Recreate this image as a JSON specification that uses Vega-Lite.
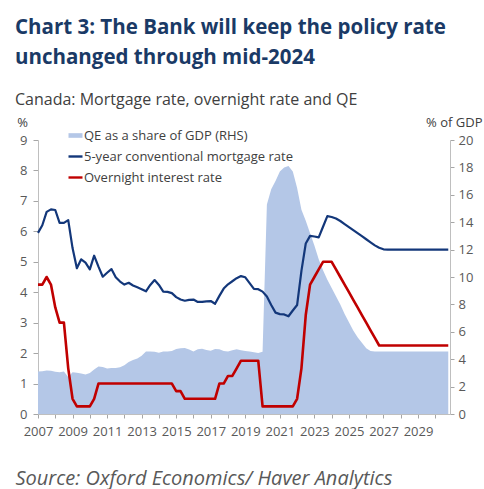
{
  "$schema": "https://vega.github.io/schema/vega-lite/v6.json",
  "width": 412,
  "height": 274,
  "autosize": "none",
  "padding": {"left": 38, "top": 140, "right": 34, "bottom": 75},
  "background": "white",
  "title": {
    "text": ["Chart 3: The Bank will keep the policy rate", "unchanged through mid-2024"],
    "subtitle": "Canada: Mortgage rate, overnight rate and QE",
    "anchor": "start",
    "frame": "group",
    "dx": -23,
    "font": "Open Sans",
    "fontSize": 20.5,
    "fontWeight": "bold",
    "color": "#1A3A66",
    "lineHeight": 30,
    "subtitleFont": "Open Sans",
    "subtitleFontSize": 16,
    "subtitleColor": "#404040",
    "subtitlePadding": 24,
    "offset": 8
  },
  "data": {"values": [
    {"t": 2007, "qe": 3.11, "mort": 5.95, "ovn": 4.25},
    {"t": 2007.25, "qe": 3.12, "mort": 6.2, "ovn": 4.25},
    {"t": 2007.5, "qe": 3.18, "mort": 6.64, "ovn": 4.5},
    {"t": 2007.75, "qe": 3.15, "mort": 6.72, "ovn": 4.25},
    {"t": 2008, "qe": 3.08, "mort": 6.7, "ovn": 3.5},
    {"t": 2008.25, "qe": 3.04, "mort": 6.28, "ovn": 3.0},
    {"t": 2008.5, "qe": 3.1, "mort": 6.28, "ovn": 3.0},
    {"t": 2008.75, "qe": 2.7, "mort": 6.37, "ovn": 1.5},
    {"t": 2009, "qe": 3.05, "mort": 5.45, "ovn": 0.5},
    {"t": 2009.25, "qe": 3.02, "mort": 4.79, "ovn": 0.25},
    {"t": 2009.5, "qe": 2.95, "mort": 5.08, "ovn": 0.25},
    {"t": 2009.75, "qe": 2.88, "mort": 4.97, "ovn": 0.25},
    {"t": 2010, "qe": 3.0, "mort": 4.75, "ovn": 0.25},
    {"t": 2010.25, "qe": 3.25, "mort": 5.2, "ovn": 0.5},
    {"t": 2010.5, "qe": 3.47, "mort": 4.84, "ovn": 1.0},
    {"t": 2010.75, "qe": 3.43, "mort": 4.51, "ovn": 1.0},
    {"t": 2011, "qe": 3.33, "mort": 4.64, "ovn": 1.0},
    {"t": 2011.25, "qe": 3.35, "mort": 4.76, "ovn": 1.0},
    {"t": 2011.5, "qe": 3.36, "mort": 4.49, "ovn": 1.0},
    {"t": 2011.75, "qe": 3.42, "mort": 4.35, "ovn": 1.0},
    {"t": 2012, "qe": 3.55, "mort": 4.25, "ovn": 1.0},
    {"t": 2012.25, "qe": 3.8, "mort": 4.31, "ovn": 1.0},
    {"t": 2012.5, "qe": 3.95, "mort": 4.22, "ovn": 1.0},
    {"t": 2012.75, "qe": 4.05, "mort": 4.16, "ovn": 1.0},
    {"t": 2013, "qe": 4.25, "mort": 4.1, "ovn": 1.0},
    {"t": 2013.25, "qe": 4.57, "mort": 4.03, "ovn": 1.0},
    {"t": 2013.5, "qe": 4.57, "mort": 4.24, "ovn": 1.0},
    {"t": 2013.75, "qe": 4.55, "mort": 4.4, "ovn": 1.0},
    {"t": 2014, "qe": 4.47, "mort": 4.24, "ovn": 1.0},
    {"t": 2014.25, "qe": 4.57, "mort": 4.02, "ovn": 1.0},
    {"t": 2014.5, "qe": 4.57, "mort": 4.01, "ovn": 1.0},
    {"t": 2014.75, "qe": 4.6, "mort": 3.97, "ovn": 1.0},
    {"t": 2015, "qe": 4.75, "mort": 3.84, "ovn": 0.75},
    {"t": 2015.25, "qe": 4.8, "mort": 3.76, "ovn": 0.75},
    {"t": 2015.5, "qe": 4.82, "mort": 3.72, "ovn": 0.5},
    {"t": 2015.75, "qe": 4.7, "mort": 3.75, "ovn": 0.5},
    {"t": 2016, "qe": 4.57, "mort": 3.76, "ovn": 0.5},
    {"t": 2016.25, "qe": 4.72, "mort": 3.68, "ovn": 0.5},
    {"t": 2016.5, "qe": 4.77, "mort": 3.68, "ovn": 0.5},
    {"t": 2016.75, "qe": 4.68, "mort": 3.7, "ovn": 0.5},
    {"t": 2017, "qe": 4.62, "mort": 3.71, "ovn": 0.5},
    {"t": 2017.25, "qe": 4.75, "mort": 3.62, "ovn": 0.5},
    {"t": 2017.5, "qe": 4.72, "mort": 3.88, "ovn": 1.0},
    {"t": 2017.75, "qe": 4.6, "mort": 4.12, "ovn": 1.0},
    {"t": 2018, "qe": 4.57, "mort": 4.26, "ovn": 1.25},
    {"t": 2018.25, "qe": 4.65, "mort": 4.36, "ovn": 1.25},
    {"t": 2018.5, "qe": 4.72, "mort": 4.46, "ovn": 1.5},
    {"t": 2018.75, "qe": 4.65, "mort": 4.53, "ovn": 1.75},
    {"t": 2019, "qe": 4.6, "mort": 4.49, "ovn": 1.75},
    {"t": 2019.25, "qe": 4.57, "mort": 4.3, "ovn": 1.75},
    {"t": 2019.5, "qe": 4.5, "mort": 4.11, "ovn": 1.75},
    {"t": 2019.75, "qe": 4.45, "mort": 4.1, "ovn": 1.75},
    {"t": 2020, "qe": 4.55, "mort": 4.02, "ovn": 0.25},
    {"t": 2020.25, "qe": 15.3, "mort": 3.86, "ovn": 0.25},
    {"t": 2020.5, "qe": 16.4, "mort": 3.58, "ovn": 0.25},
    {"t": 2020.75, "qe": 17.0, "mort": 3.33, "ovn": 0.25},
    {"t": 2021, "qe": 17.7, "mort": 3.28, "ovn": 0.25},
    {"t": 2021.25, "qe": 18.0, "mort": 3.27, "ovn": 0.25},
    {"t": 2021.5, "qe": 18.1, "mort": 3.21, "ovn": 0.25},
    {"t": 2021.75, "qe": 17.7, "mort": 3.4, "ovn": 0.25},
    {"t": 2022, "qe": 16.5, "mort": 3.58, "ovn": 0.5},
    {"t": 2022.25, "qe": 14.9, "mort": 4.7, "ovn": 1.5},
    {"t": 2022.5, "qe": 14.1, "mort": 5.6, "ovn": 3.25},
    {"t": 2022.75, "qe": 13.2, "mort": 5.85, "ovn": 4.25},
    {"t": 2023, "qe": 12.3, "mort": 5.83, "ovn": 4.5},
    {"t": 2023.25, "qe": 11.3, "mort": 5.8, "ovn": 4.75},
    {"t": 2023.5, "qe": 10.5, "mort": 6.15, "ovn": 5.0},
    {"t": 2023.75, "qe": 9.8, "mort": 6.5, "ovn": 5.0},
    {"t": 2024, "qe": 9.2, "mort": 6.47, "ovn": 5.0},
    {"t": 2024.25, "qe": 8.6, "mort": 6.42, "ovn": 4.75},
    {"t": 2024.5, "qe": 8.0, "mort": 6.34, "ovn": 4.5},
    {"t": 2024.75, "qe": 7.3, "mort": 6.24, "ovn": 4.25},
    {"t": 2025, "qe": 6.7, "mort": 6.14, "ovn": 4.0},
    {"t": 2025.25, "qe": 6.1, "mort": 6.04, "ovn": 3.75},
    {"t": 2025.5, "qe": 5.6, "mort": 5.94, "ovn": 3.5},
    {"t": 2025.75, "qe": 5.2, "mort": 5.84, "ovn": 3.25},
    {"t": 2026, "qe": 4.8, "mort": 5.74, "ovn": 3.0},
    {"t": 2026.25, "qe": 4.6, "mort": 5.64, "ovn": 2.75},
    {"t": 2026.5, "qe": 4.57, "mort": 5.54, "ovn": 2.5},
    {"t": 2026.75, "qe": 4.57, "mort": 5.46, "ovn": 2.25},
    {"t": 2027, "qe": 4.57, "mort": 5.41, "ovn": 2.25},
    {"t": 2027.25, "qe": 4.57, "mort": 5.4, "ovn": 2.25},
    {"t": 2027.5, "qe": 4.57, "mort": 5.4, "ovn": 2.25},
    {"t": 2027.75, "qe": 4.57, "mort": 5.4, "ovn": 2.25},
    {"t": 2028, "qe": 4.57, "mort": 5.4, "ovn": 2.25},
    {"t": 2028.25, "qe": 4.57, "mort": 5.4, "ovn": 2.25},
    {"t": 2028.5, "qe": 4.57, "mort": 5.4, "ovn": 2.25},
    {"t": 2028.75, "qe": 4.57, "mort": 5.4, "ovn": 2.25},
    {"t": 2029, "qe": 4.57, "mort": 5.4, "ovn": 2.25},
    {"t": 2029.25, "qe": 4.57, "mort": 5.4, "ovn": 2.25},
    {"t": 2029.5, "qe": 4.57, "mort": 5.4, "ovn": 2.25},
    {"t": 2029.75, "qe": 4.57, "mort": 5.4, "ovn": 2.25},
    {"t": 2030, "qe": 4.57, "mort": 5.4, "ovn": 2.25},
    {"t": 2030.25, "qe": 4.57, "mort": 5.4, "ovn": 2.25},
    {"t": 2030.5, "qe": 4.57, "mort": 5.4, "ovn": 2.25},
    {"t": 2030.75, "qe": 4.57, "mort": 5.4, "ovn": 2.25}
  ]},
  "encoding": {
    "x": {
      "field": "t",
      "type": "quantitative",
      "scale": {"domain": [2007, 2030.85], "nice": false, "zero": false},
      "axis": {
        "values": [2007,2007.25,2007.5,2007.75,2008,2008.25,2008.5,2008.75,2009,2009.25,2009.5,2009.75,2010,2010.25,2010.5,2010.75,2011,2011.25,2011.5,2011.75,2012,2012.25,2012.5,2012.75,2013,2013.25,2013.5,2013.75,2014,2014.25,2014.5,2014.75,2015,2015.25,2015.5,2015.75,2016,2016.25,2016.5,2016.75,2017,2017.25,2017.5,2017.75,2018,2018.25,2018.5,2018.75,2019,2019.25,2019.5,2019.75,2020,2020.25,2020.5,2020.75,2021,2021.25,2021.5,2021.75,2022,2022.25,2022.5,2022.75,2023,2023.25,2023.5,2023.75,2024,2024.25,2024.5,2024.75,2025,2025.25,2025.5,2025.75,2026,2026.25,2026.5,2026.75,2027,2027.25,2027.5,2027.75,2028,2028.25,2028.5,2028.75,2029,2029.25,2029.5,2029.75,2030,2030.25,2030.5,2030.75],
        "format": "d",
        "labelExpr": "datum.value % 2 == 1 ? datum.label : ''",
        "labelOverlap": false,
        "labelFlush": false,
        "labelBound": false,
        "labelPadding": 7,
        "tickSize": 4,
        "grid": false,
        "title": "Source: Oxford Economics/ Haver Analytics",
        "titleX": -23,
        "titleY": 70,
        "titleAlign": "left",
        "titleAnchor": "start",
        "titleBaseline": "alphabetic",
        "titleFontStyle": "italic",
        "titleFontWeight": "normal",
        "titleFontSize": 20,
        "titleColor": "#595959"
      }
    }
  },
  "layer": [
    {
      "mark": {"type": "area", "opacity": 1, "interpolate": "linear"},
      "encoding": {
        "y": {
          "field": "qe",
          "type": "quantitative",
          "scale": {"domain": [0, 20], "nice": false},
          "axis": {
            "orient": "right",
            "values": [0, 2, 4, 6, 8, 10, 12, 14, 16, 18, 20],
            "labelOverlap": false,
            "grid": false,
            "tickSize": 4,
            "labelPadding": 4,
            "title": "% of GDP",
            "titleAngle": 0,
            "titleX": 32,
            "titleY": -18,
            "titleAlign": "right",
            "titleBaseline": "middle"
          }
        },
        "color": {
          "datum": "qe",
          "type": "nominal",
          "scale": {"domain": ["qe", "mort", "ovn"], "range": ["#B4C7E7", "#13377A", "#C00000"]},
          "legend": {
            "orient": "none",
            "legendX": 31,
            "legendY": -11,
            "title": null,
            "labelExpr": "datum.value == 'qe' ? 'QE as a share of GDP (RHS)' : datum.value == 'mort' ? '5-year conventional mortgage rate' : 'Overnight interest rate'",
            "labelFont": "Open Sans",
            "labelFontSize": 13,
            "labelColor": "#404040",
            "labelLimit": 400,
            "labelOffset": 2,
            "rowPadding": 7,
            "symbolSize": 196,
            "padding": 0,
            "encode": {
              "symbols": {
                "update": {
                  "shape": {"signal": "datum.value == 'qe' ? 'M-1,-0.33H1V0.33H-1Z' : 'M-1,0H1'"},
                  "fill": {"signal": "datum.value == 'qe' ? '#B4C7E7' : 'transparent'"},
                  "stroke": {"signal": "datum.value == 'qe' ? 'transparent' : (datum.value == 'mort' ? '#13377A' : '#C00000')"},
                  "strokeWidth": {"signal": "datum.value == 'qe' ? 0 : 2.4"},
                  "opacity": {"value": 1}
                }
              }
            }
          }
        }
      }
    },
    {
      "layer": [
        {
          "data": {"values": [{}]},
          "mark": {"type": "rule", "color": "#595959", "strokeWidth": 1.5},
          "encoding": {"x": {"datum": 2023.47, "type": "quantitative"}}
        },
        {
          "data": {"values": [{}]},
          "mark": {"type": "text", "align": "left", "baseline": "middle", "font": "Open Sans", "fontSize": 13, "color": "#404040"},
          "encoding": {
            "x": {"datum": 2024.07, "type": "quantitative"},
            "y": {
              "datum": 8.44,
              "type": "quantitative",
              "scale": {"domain": [0, 9], "nice": false},
              "axis": {
                "orient": "left",
                "values": [0, 1, 2, 3, 4, 5, 6, 7, 8, 9],
                "labelOverlap": false,
                "grid": false,
                "tickSize": 5,
                "labelPadding": 6,
                "title": "%",
                "titleAngle": 0,
                "titleX": -16,
                "titleY": -18,
                "titleAlign": "center",
                "titleBaseline": "middle"
              }
            },
            "text": {"value": "Forecast"}
          }
        },
        {
          "transform": [{"fold": ["mort", "ovn"], "as": ["series", "value"]}],
          "mark": {"type": "line", "interpolate": "linear", "strokeJoin": "round"},
          "encoding": {
            "y": {
              "field": "value",
              "type": "quantitative",
              "scale": {"domain": [0, 9], "nice": false},
              "axis": {
                "orient": "left",
                "values": [0, 1, 2, 3, 4, 5, 6, 7, 8, 9],
                "labelOverlap": false,
                "grid": false,
                "tickSize": 5,
                "labelPadding": 6,
                "title": "%",
                "titleAngle": 0,
                "titleX": -16,
                "titleY": -18,
                "titleAlign": "center",
                "titleBaseline": "middle"
              }
            },
            "color": {
              "field": "series",
              "type": "nominal",
              "legend": {
                "orient": "none",
                "legendX": 31,
                "legendY": -11,
                "title": null,
                "labelExpr": "datum.value == 'qe' ? 'QE as a share of GDP (RHS)' : datum.value == 'mort' ? '5-year conventional mortgage rate' : 'Overnight interest rate'",
                "labelFont": "Open Sans",
                "labelFontSize": 13,
                "labelColor": "#404040",
                "labelLimit": 400,
                "labelOffset": 2,
                "rowPadding": 7,
                "symbolSize": 196,
                "padding": 0,
                "encode": {
                  "symbols": {
                    "update": {
                      "shape": {"signal": "datum.value == 'qe' ? 'M-1,-0.33H1V0.33H-1Z' : 'M-1,0H1'"},
                      "fill": {"signal": "datum.value == 'qe' ? '#B4C7E7' : 'transparent'"},
                      "stroke": {"signal": "datum.value == 'qe' ? 'transparent' : (datum.value == 'mort' ? '#13377A' : '#C00000')"},
                      "strokeWidth": {"signal": "datum.value == 'qe' ? 0 : 2.4"},
                      "opacity": {"value": 1}
                    }
                  }
                }
              }
            },
            "strokeWidth": {"field": "series", "type": "nominal", "scale": {"domain": ["mort", "ovn"], "range": [2.2, 2.6]}, "legend": null}
          }
        }
      ]
    }
  ],
  "resolve": {"scale": {"y": "independent"}},
  "config": {
    "view": {"stroke": null},
    "axis": {
      "labelFont": "Open Sans",
      "labelFontSize": 13,
      "labelColor": "#595959",
      "titleFont": "Open Sans",
      "titleFontSize": 13,
      "titleFontWeight": "normal",
      "titleColor": "#404040",
      "domainColor": "#BFBFBF",
      "tickColor": "#A6A6A6"
    }
  }
}
